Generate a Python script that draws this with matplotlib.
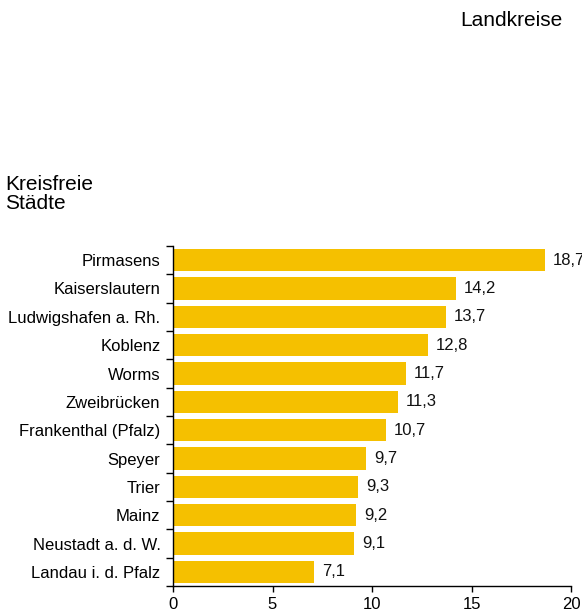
import matplotlib
matplotlib.use("Agg")
import matplotlib.pyplot as plt

plt.rcParams['font.family'] = ['Liberation Sans', 'DejaVu Sans']

cities = ["Pirmasens", "Kaiserslautern", "Ludwigshafen a. Rh.", "Koblenz", "Worms",
          "Zweibrücken", "Frankenthal (Pfalz)", "Speyer", "Trier", "Mainz",
          "Neustadt a. d. W.", "Landau i. d. Pfalz"]
values = [18.7, 14.2, 13.7, 12.8, 11.7, 11.3, 10.7, 9.7, 9.3, 9.2, 9.1, 7.1]
xticks = [0, 5, 10, 15, 20]

fig = plt.figure(figsize=(5.82, 6.14), dpi=100)
ax = fig.add_axes([173/582, 1-586/614, (571-173)/582, (586-246)/614])

n = len(cities)
ypos = list(range(n))[::-1]
ax.barh(ypos, values, height=0.78, color="#F5C000", zorder=2)
for y, v in zip(ypos, values):
    ax.text(v + 0.4, y, f"{v:.1f}".replace(".", ","), va="center", ha="left",
            fontsize=12, color="#111111", clip_on=False)

ax.set_xlim(0, 20)
ax.set_ylim(-0.5, n - 0.5)
ax.set_xticks(xticks)
ax.set_xticklabels([str(t) for t in xticks], fontsize=12)
ax.set_yticks(ypos)
ax.set_yticklabels(cities, fontsize=12)
ax.set_yticks([i - 0.5 for i in range(n + 1)], minor=True)
ax.tick_params(axis='y', which='major', length=0, pad=9)
ax.tick_params(axis='y', which='minor', length=5, width=1)
ax.tick_params(axis='x', which='major', length=4, width=1, pad=4)
for s in ["top", "right"]:
    ax.spines[s].set_visible(False)
ax.spines["left"].set_linewidth(1)
ax.spines["bottom"].set_linewidth(1)

fig.text(563/582, 1-20/614, "Landkreise", ha="right", va="center", fontsize=15)
fig.text(5/582, 1-194/614, "Kreisfreie\nStädte", ha="left", va="center", fontsize=15,
         linespacing=1.05)

fig.savefig("out.png", dpi=100)
